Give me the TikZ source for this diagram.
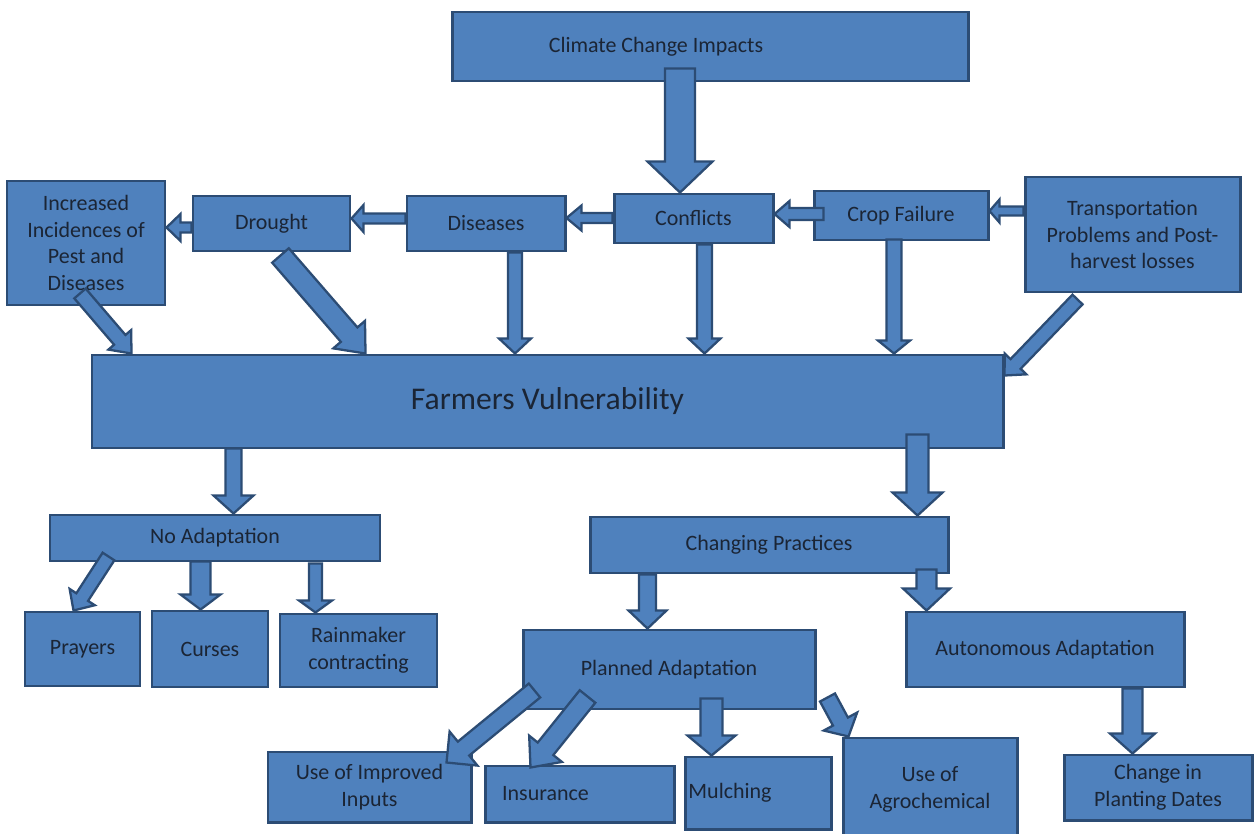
\documentclass[tikz,border=0pt]{standalone}
\usepackage{fontspec}
\setmainfont{Carlito}
\usetikzlibrary{calc}
\definecolor{bfill}{HTML}{4F81BD}
\definecolor{bline}{HTML}{2C4C74}
\definecolor{btext}{HTML}{1B2535}
\tikzset{
  box/.style={draw=bline, fill=bfill, line width=1.7pt, text=btext,
    font=\fontsize{12.5}{15.3}\selectfont, align=center, inner sep=0pt},
  bigtext/.style={font=\fontsize{18}{21}\selectfont},
  barrow/.style={draw=bline, fill=bfill, line width=1.3pt, line join=miter}
}
% box: [style], name, x1, y1, x2, y2, text (pixel units, y downwards)
\newcommand{\mkbox}[7][]{%
  \node[box,#1, minimum width={(#5-#3)*0.02cm}, minimum height={(#6-#4)*0.02cm}]
    (#2) at ({(#3+#5)/2},{(#4+#6)/2}) {#7};%
}
% block arrow: from, to, shaft width, head width, head length (pixels)
\newcommand{\blockarrow}[5]{%
  \path (#1) coordinate (ba-a) (#2) coordinate (ba-b);
  \path ($(ba-b)!#5*0.02cm!(ba-a)$) coordinate (ba-h);
  \filldraw[barrow] ($(ba-a)!#3*0.01cm!90:(ba-b)$) -- ($(ba-h)!#3*0.01cm!90:(ba-b)$)
    -- ($(ba-h)!#4*0.01cm!90:(ba-b)$) -- (ba-b) -- ($(ba-h)!#4*0.01cm!-90:(ba-b)$)
    -- ($(ba-h)!#3*0.01cm!-90:(ba-b)$) -- ($(ba-a)!#3*0.01cm!-90:(ba-b)$) -- cycle;%
}
\begin{document}
\begin{tikzpicture}[x=0.02cm, y=-0.02cm]
\fill[white] (0,0) rectangle (1257,834);
\clip (0,0) rectangle (1257,834);
% boxes
\mkbox{cc}{452}{12}{968}{81}{Climate Change Impacts\hspace*{2.16cm}}
\mkbox{inc}{7}{181}{165}{305}{Increased\\Incidences of\\Pest and\\Diseases}
\mkbox{dro}{193}{196}{350}{251}{Drought}
\mkbox{dis}{407}{196}{565}{251}{Diseases}
\mkbox{con}{614}{194}{773}{243}{Conflicts}
\mkbox{crop}{814}{191}{988}{240}{Crop Failure}
\mkbox{trans}{1025}{177}{1240}{292}{Transportation\\Problems and Post-\\harvest losses}
\mkbox[bigtext]{fv}{92}{355}{1003}{448}{Farmers Vulnerability}
\mkbox{noad}{50}{515}{380}{561}{No Adaptation}
\mkbox{pray}{25}{612}{140}{686}{Prayers}
\mkbox{curse}{152}{611}{268}{687}{Curses}
\mkbox{rain}{280}{614}{437}{687}{Rainmaker\\contracting}
\mkbox{chg}{590}{517}{948}{573}{Changing Practices}
\mkbox{plan}{523}{630}{815}{709}{Planned Adaptation}
\mkbox{auto}{906}{612}{1184}{687}{Autonomous Adaptation}
\mkbox{impr}{268}{752}{471}{822}{Use of Improved\\Inputs}
\mkbox{ins}{485}{766}{674}{822}{Insurance\hspace*{1.36cm}}
\mkbox{mulch}{685}{757}{831}{829}{Mulching\hspace*{1.12cm}}
\mkbox{agro}{843}{738}{1017}{840}{Use of\\Agrochemical}
\mkbox{plant}{1064}{755}{1252}{820}{Change in\\Planting Dates}
% arrows
\blockarrow{$(cc.south)+(-30,-14)$}{ba-a |- con.north}{30}{65}{31}
\blockarrow{$(con.west)+(0,-0.5)$}{ba-a -| dis.east}{10}{25}{15}
\blockarrow{$(dis.west)+(0,-5)$}{ba-a -| dro.east}{10}{27}{12}
\blockarrow{$(dro.west)+(0,4)$}{ba-a -| inc.east}{10}{27}{14}
\blockarrow{$(crop.west)+(11,-1.5)$}{ba-a -| con.east}{12}{26}{15}
\blockarrow{$(trans.west)+(0,-23.5)$}{ba-a -| crop.east}{9}{23}{10}
\blockarrow{$(inc.south)+(-6,-13)$}{$(fv.north west)+(41,0)$}{15}{30}{18}
\blockarrow{$(dro.south)+(9,3)$}{$(fv.north west)+(275,0)$}{22}{42}{25}
\blockarrow{$(dis.south)+(29,0)$}{ba-a |- fv.north}{14}{32}{15}
\blockarrow{$(con.south)+(11,0)$}{ba-a |- fv.north}{15}{32}{15}
\blockarrow{$(crop.south)+(-7,-2)$}{ba-a |- fv.north}{15}{32}{13}
\blockarrow{$(trans.south)+(-55,6)$}{$(fv.north east)+(0,22)$}{14}{30}{16}
\blockarrow{$(fv.south west)+(143,-1)$}{ba-a |- noad.north}{16}{40}{18}
\blockarrow{$(fv.south west)+(827,-15)$}{ba-a |- chg.north}{22}{50}{23}
\blockarrow{$(noad.south west)+(60,-6)$}{$(pray.north west)+(50,0)$}{14}{30}{16}
\blockarrow{$(noad.south west)+(152,-1)$}{ba-a |- curse.north}{20}{40}{15}
\blockarrow{$(noad.south west)+(267,1)$}{ba-a |- rain.north}{13}{33}{12}
\blockarrow{$(chg.south west)+(59,0)$}{ba-a |- plan.north}{17}{38}{18}
\blockarrow{$(chg.south west)+(338,-5)$}{ba-a |- auto.north}{20}{47}{22}
\blockarrow{$(plan.south west)+(13,-20)$}{$(impr.north west)+(180,12)$}{18}{44}{22}
\blockarrow{$(plan.south west)+(66,-14)$}{$(ins.north west)+(47,3)$}{20}{42}{24}
\blockarrow{$(plan.south west)+(190,-12)$}{ba-a |- mulch.north}{22}{48}{20}
\blockarrow{$(plan.south east)+(11,-13)$}{$(agro.north west)+(7,0)$}{17}{38}{17}
\blockarrow{$(auto.south west)+(228,0)$}{ba-a |- plant.north}{20}{45}{20}
\end{tikzpicture}
\end{document}
